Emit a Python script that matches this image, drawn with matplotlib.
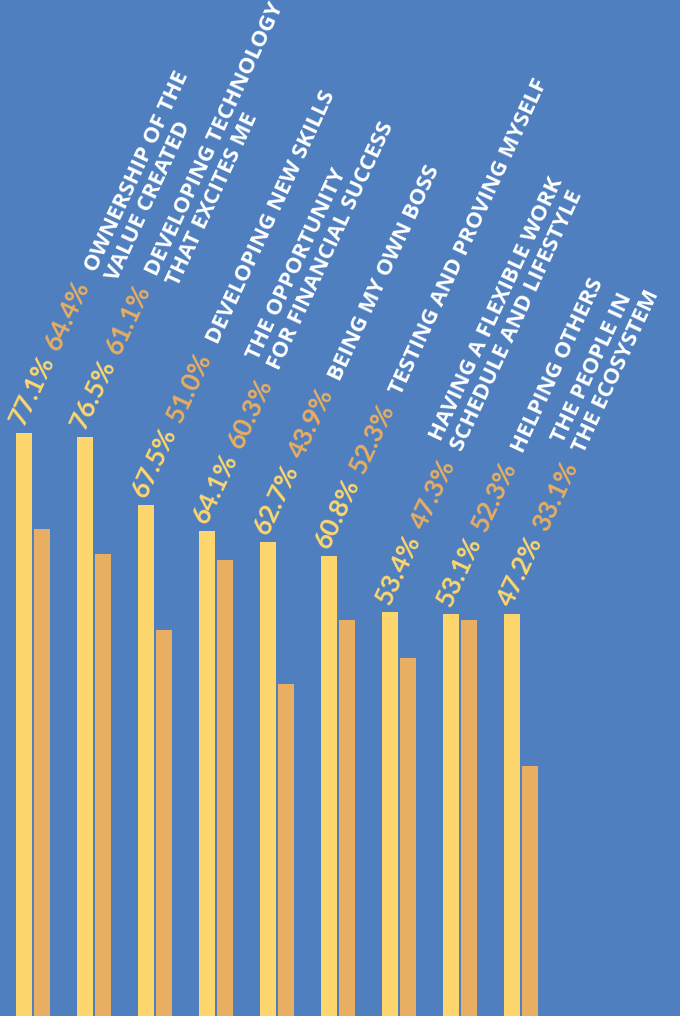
import numpy as np
import matplotlib.pyplot as plt

categories = [
    ["OWNERSHIP OF THE", "VALUE CREATED"],
    ["DEVELOPING TECHNOLOGY", "THAT EXCITES ME"],
    ["DEVELOPING NEW SKILLS"],
    ["THE OPPORTUNITY", "FOR FINANCIAL SUCCESS"],
    ["BEING MY OWN BOSS"],
    ["TESTING AND PROVING MYSELF"],
    ["HAVING A FLEXIBLE WORK", "SCHEDULE AND LIFESTYLE"],
    ["HELPING OTHERS"],
    ["THE PEOPLE IN", "THE ECOSYSTEM"],
]
yellow_vals = [77.1, 76.5, 67.5, 64.1, 62.7, 60.8, 53.4, 53.1, 47.2]
orange_vals = [64.4, 61.1, 51.0, 60.3, 43.9, 52.3, 47.3, 52.3, 33.1]
# in the source picture the last yellow bar is drawn at the 53.1 height
yellow_drawn = yellow_vals[:-1] + [53.1]

# which label line sits on the value line (0 = first, 1 = second)
line_on_base = [0, 0, 0, 1, 0, 0, 1, 0, 1]

bg = "#4F7FBF"
yellow = "#FDD66E"
orange = "#E8AE62"

fig = plt.figure(figsize=(6.8, 10.16), dpi=100, facecolor=bg)
ax = fig.add_axes([0, 0, 1, 1])
ax.set_facecolor(bg)

x = np.arange(len(categories))
w = 0.262
ax.bar(x, yellow_drawn, width=w, align="edge", color=yellow)
ax.bar(x + 0.303, orange_vals, width=w, align="edge", color=orange)
ax.set_xlim(-0.262, 10.885)
ax.set_ylim(0, 134.3)
ax.axis("off")

ang = 65
ca, sa = np.cos(np.radians(ang)), np.sin(np.radians(ang))


def put(txt, xi, h, along, perp, color, size, weight, fam):
    # along: px along the text direction, perp: px toward lower right
    dx = 8 + along * ca + perp * sa
    dy = 6 + along * sa - perp * ca
    ax.annotate(txt, xy=(xi, h), xytext=(dx, dy), textcoords="offset pixels",
                rotation=ang, rotation_mode="anchor", ha="left", va="baseline",
                color=color, fontsize=size, fontweight=weight, family=fam)


for i in range(len(categories)):
    h = yellow_drawn[i]
    put(f"{yellow_vals[i]:.1f}%", x[i], h, 0, 0, yellow, 19, "bold", "Lato")
    put(f"{orange_vals[i]:.1f}%", x[i], h, 83, 0, orange, 19, "bold", "Lato")
    for j, line in enumerate(categories[i]):
        put(line, x[i], h, 170, 23 * (j - line_on_base[i]), "white", 16,
            "bold", "Open Sans")

fig.savefig("out.png", dpi=100, facecolor=bg)
